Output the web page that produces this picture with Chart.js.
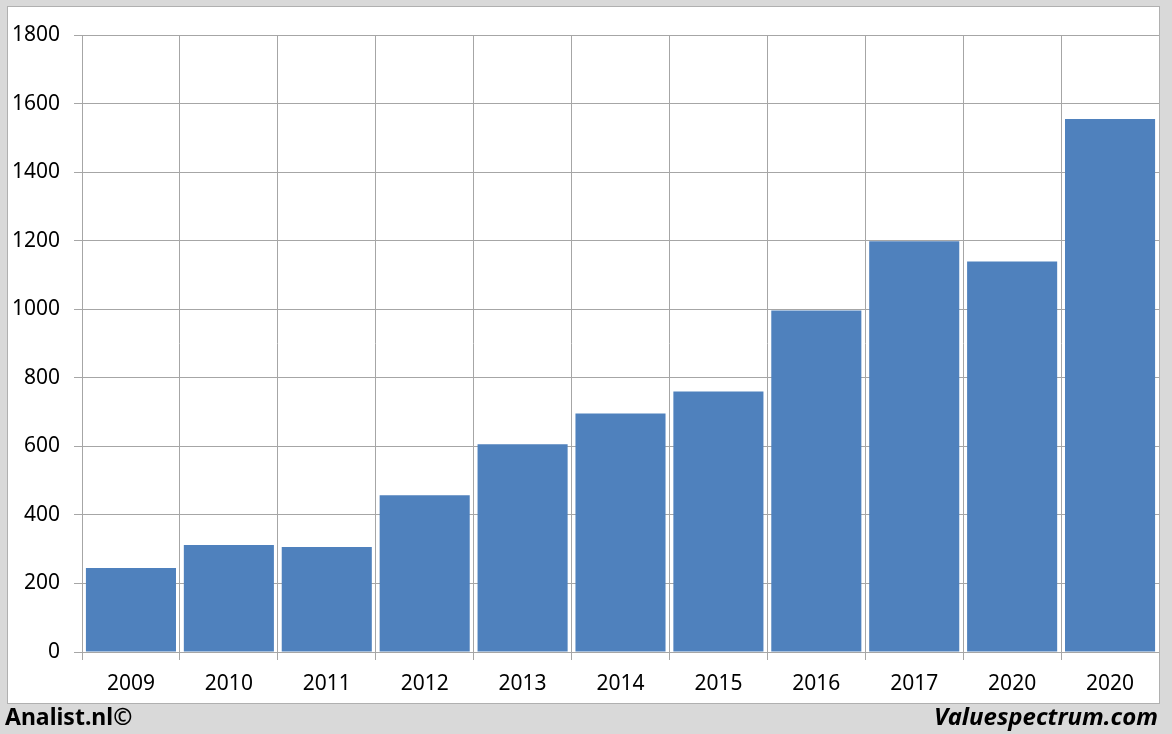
<!DOCTYPE html>
<html>
<head>
<meta charset="utf-8">
<script src="https://cdn.jsdelivr.net/npm/chart.js@4"></script>
<style>
  html, body { margin: 0; padding: 0; }
  body { width: 1172px; height: 734px; background: #d9d9d9; position: relative; overflow: hidden; font-family: "Noto Sans", sans-serif; }
  #panel { position: absolute; left: 7px; top: 6px; width: 1151px; height: 696px; background: #fff; border: 1px solid #b0b0b0; }
  #panel canvas { position: absolute; left: 0; top: 0; }
  .foot { position: absolute; font-weight: bold; color: #000; }
  #left { left: 5px; top: 700px; font-size: 23px; }
  #right { right: 14px; top: 699px; font-size: 24px; font-style: italic; }
</style>
</head>
<body>
<div id="panel"><canvas id="chart" width="1151" height="696"></canvas></div>
<div class="foot" id="left">Analist.nl©</div>
<div class="foot" id="right">Valuespectrum.com</div>
<script>
const years = ['2009','2010','2011','2012','2013','2014','2015','2016','2017','2020','2020'];
const values = [245, 312, 306, 457, 606, 696, 760, 996, 1198, 1139, 1555];
const yTicks = [0, 200, 400, 600, 800, 1000, 1200, 1400, 1600, 1800];

const gridColor = '#a6a6a6';
const tickFont = { family: 'Noto Sans', size: 21 };

new Chart(document.getElementById('chart'), {
  type: 'bar',
  data: {
    labels: years,
    datasets: [{ data: values, backgroundColor: '#4f81bd', borderWidth: 0, barPercentage: 0.92, categoryPercentage: 1 }]
  },
  options: {
    responsive: false,
    animation: false,
    layout: { padding: { top: 28, right: 0, left: 0, bottom: 0 } },
    plugins: { legend: { display: false }, tooltip: { enabled: false } },
    scales: {
      x: {
        grid: { color: gridColor, tickLength: 8, offset: true },
        border: { color: gridColor },
        ticks: { color: '#000', font: tickFont, padding: 11, maxRotation: 0 },
        afterFit: s => { s.height = 51; }
      },
      y: {
        min: 0, max: 1800,
        afterBuildTicks: s => { s.ticks = yTicks.map(v => ({ value: v })); },
        grid: { color: gridColor, tickLength: 8 },
        border: { color: gridColor },
        ticks: { color: '#000', font: tickFont, padding: 14, callback: v => String(v) },
        afterFit: s => { s.width = 74; }
      }
    }
  }
});
</script>
</body>
</html>
